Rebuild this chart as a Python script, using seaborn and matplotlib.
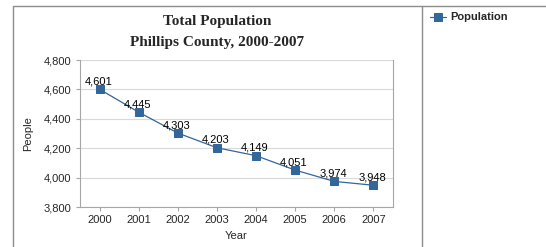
import matplotlib
matplotlib.use('Agg')
import matplotlib.pyplot as plt
from matplotlib.lines import Line2D
import seaborn as sns
import pandas as pd

# Data
years = [2000, 2001, 2002, 2003, 2004, 2005, 2006, 2007]
population = [4601, 4445, 4303, 4203, 4149, 4051, 3974, 3948]
y_ticks = [3800, 4000, 4200, 4400, 4600, 4800]

df = pd.DataFrame({'Year': years, 'Population': population})

sns.set_style('white')
plt.rcParams['font.family'] = ['Liberation Sans', 'DejaVu Sans']

blue = '#336699'
grid_grey = '#d9d9d9'
frame_grey = '#a6a6a6'

fig = plt.figure(figsize=(5.46, 2.47), dpi=100)
ax = fig.add_axes([80 / 546, 1 - 207 / 247, 313 / 546, 147 / 247])

sns.lineplot(data=df, x='Year', y='Population', ax=ax, color=blue,
             marker='s', markersize=6, markeredgecolor=blue, linewidth=0.9,
             label='Population')

# data labels
for x, y in zip(years, population):
    ax.annotate(f'{y:,}', (x, y), xytext=(-1, 2), textcoords='offset points',
                ha='center', va='bottom', fontsize=8, color='black')

ax.set_xlim(1999.5, 2007.5)
ax.set_ylim(3800, 4800)
ax.set_xticks(years)
ax.set_xticklabels([str(y) for y in years])
ax.set_yticks(y_ticks)
ax.set_yticklabels([f'{v:,}' for v in y_ticks])
ax.yaxis.grid(True, color=grid_grey, linewidth=0.8)
ax.set_axisbelow(True)
ax.tick_params(axis='both', labelsize=8, length=3, color=frame_grey,
               bottom=True, left=True, pad=3)
for side in ['left', 'right', 'bottom']:
    ax.spines[side].set_color(frame_grey)
    ax.spines[side].set_linewidth(0.8)
ax.spines['top'].set_visible(False)

ax.set_xlabel('Year', fontsize=8, labelpad=4)
ax.set_ylabel('People', fontsize=8, labelpad=8)

# title
fig.text(217 / 546, 1 - 22 / 247, 'Total Population', ha='center', va='center',
         fontsize=11, fontweight='bold', family=['Liberation Serif', 'DejaVu Serif'])
fig.text(217 / 546, 1 - 42 / 247, 'Phillips County, 2000-2007', ha='center', va='center',
         fontsize=11, fontweight='bold', family=['Liberation Serif', 'DejaVu Serif'])

# legend outside on the right
ax.legend(loc='upper left', bbox_to_anchor=(426 / 546, 1 - 8 / 247),
          bbox_transform=fig.transFigure, frameon=False,
          prop={'size': 8, 'weight': 'bold'}, handlelength=1.4,
          handletextpad=0.4, borderaxespad=0)

# outer frame lines
border = '#8c8c8c'
fig.add_artist(Line2D([13 / 546, 13 / 546], [0, 1 - 6 / 247], color=border, lw=1,
                      transform=fig.transFigure))
fig.add_artist(Line2D([13 / 546, 1], [1 - 6 / 247, 1 - 6 / 247], color=border, lw=1,
                      transform=fig.transFigure))
fig.add_artist(Line2D([422 / 546, 422 / 546], [0, 1 - 6 / 247], color=border, lw=1,
                      transform=fig.transFigure))

fig.savefig('out.png', dpi=100)
